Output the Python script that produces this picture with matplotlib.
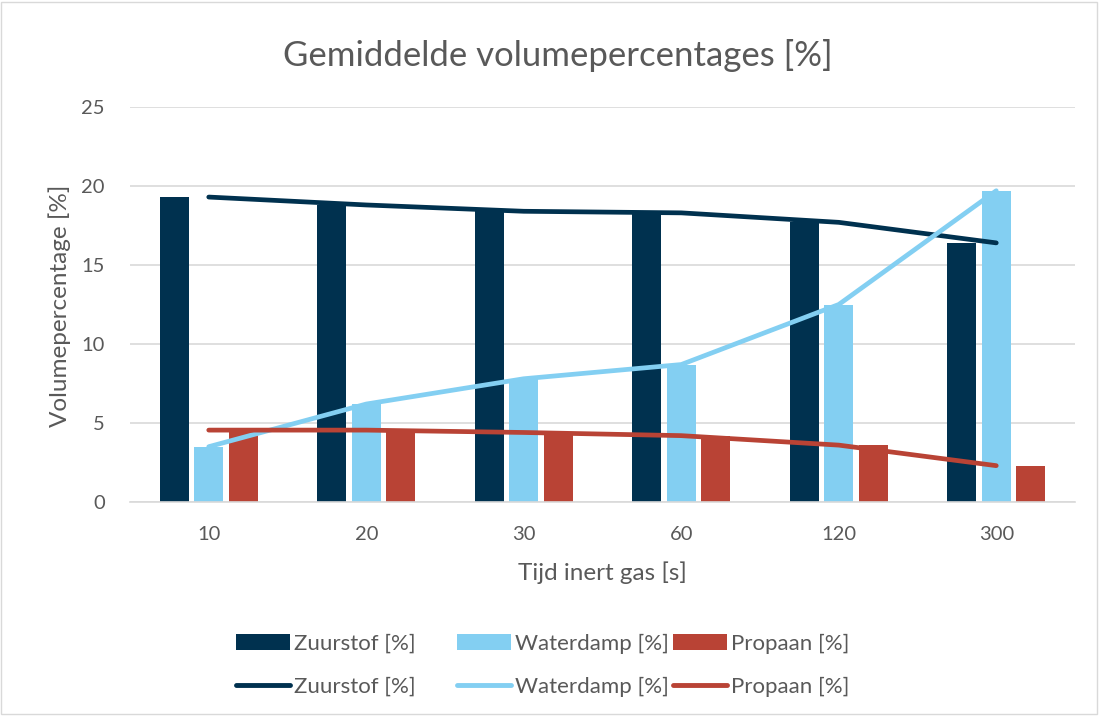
import matplotlib
matplotlib.use("Agg")
import matplotlib.pyplot as plt
from matplotlib.patches import Patch, Rectangle
from matplotlib.lines import Line2D
import numpy as np

categories = ["10", "20", "30", "60", "120", "300"]
zuurstof = [19.3, 18.8, 18.4, 18.3, 17.7, 16.4]
waterdamp = [3.5, 6.2, 7.8, 8.7, 12.5, 19.7]
propaan = [4.55, 4.55, 4.4, 4.2, 3.6, 2.3]
series_names = ["Zuurstof [%]", "Waterdamp [%]", "Propaan [%]"]
colors = ["#00314F", "#83CFF2", "#B94335"]

plt.rcParams['font.family'] = ['Lato', 'DejaVu Sans']
txt = "#595959"

fig = plt.figure(figsize=(11.01, 7.16), dpi=100)
W, H = 1101, 716
ax = fig.add_axes([130 / W, (H - 502) / H, 945 / W, 395 / H])

x = np.arange(len(categories))
bw = 0.186
step = 0.219
data = [zuurstof, waterdamp, propaan]
for i, (vals, c) in enumerate(zip(data, colors)):
    ax.bar(x + (i - 1) * step, vals, width=bw, color=c, zorder=2)
for vals, c in zip(data, colors):
    ax.plot(x, vals, color=c, lw=3.4, solid_capstyle='round', solid_joinstyle='round', zorder=3)

ax.set_xlim(-0.5, len(categories) - 0.5)
ax.set_ylim(0, 25)
ax.set_yticks([0, 5, 10, 15, 20, 25])
ax.set_xticks(x)
ax.set_xticklabels(categories)
ax.grid(axis='y', color='#D9D9D9', lw=1.2, zorder=0)
ax.set_axisbelow(True)
for s in ['top', 'right', 'left']:
    ax.spines[s].set_visible(False)
ax.spines['bottom'].set_color('#D9D9D9')
ax.spines['bottom'].set_linewidth(1.2)
ax.tick_params(length=0, labelsize=14.5, colors=txt)
ax.tick_params(axis='x', pad=17)
ax.tick_params(axis='y', pad=18)

ax.set_xlabel("Tijd inert gas [s]", fontsize=17.5, color=txt)
ax.xaxis.set_label_coords((602 - 130) / 945, (502 - 573) / 395)
ax.xaxis.label.set_va('center')
ax.set_ylabel("Volumepercentage [%]", fontsize=17.5, color=txt)
ax.yaxis.set_label_coords((60 - 130) / 945, (502 - 306) / 395)
ax.yaxis.label.set_va('center')
fig.text(558 / W, 1 - 55 / H, "Gemiddelde volumepercentages [%]", fontsize=25,
         color=txt, ha='center', va='center')

col_x = [236, 457, 673]
for n, c, cx in zip(series_names, colors, col_x):
    hs = [Patch(facecolor=c, edgecolor='none'),
          Line2D([0], [0], color=c, lw=3.5, solid_capstyle='round')]
    fig.legend(hs, [n, n], loc='center left', bbox_to_anchor=(cx / W, 1 - 665.5 / H),
               frameon=False, fontsize=16, labelcolor=txt, handlelength=2.45,
               handletextpad=0.15, labelspacing=1.03, handleheight=0.75,
               borderpad=0, borderaxespad=0)

fig.patches.append(Rectangle((1 / W, 2 / H), 1096 / W, 712 / H, transform=fig.transFigure,
                             fill=False, edgecolor='#D9D9D9', lw=1))

fig.savefig("out.png", dpi=100)
